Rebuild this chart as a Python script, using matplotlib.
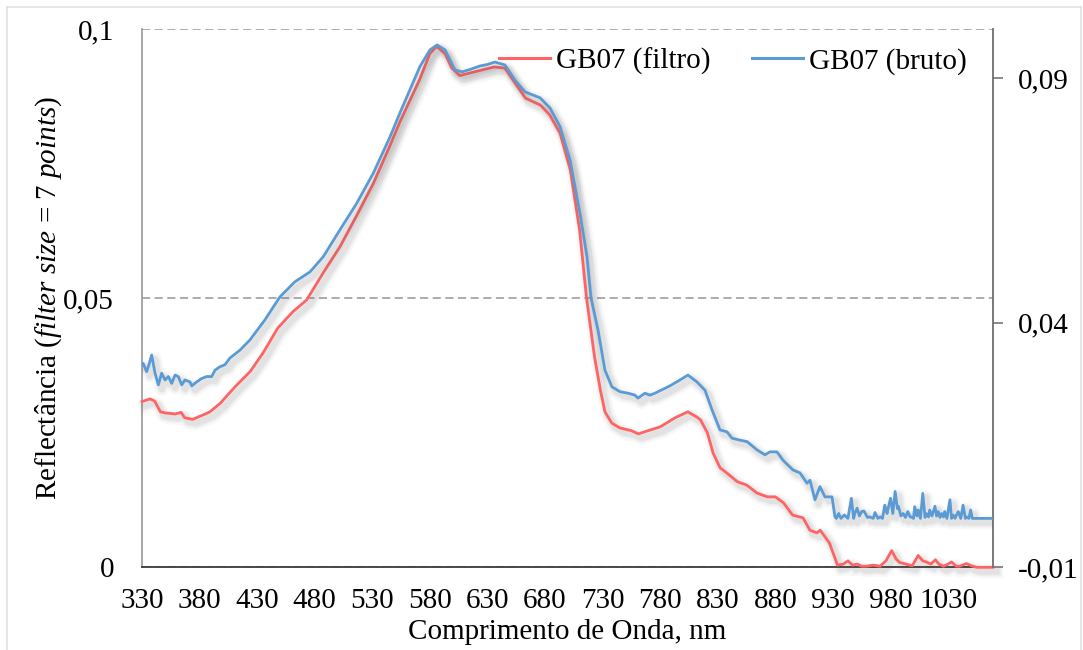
import matplotlib
matplotlib.use('Agg')
import matplotlib.pyplot as plt
from matplotlib import patheffects as pe
from matplotlib.lines import Line2D
from matplotlib.patches import Rectangle

plt.rcParams['font.family'] = ['Liberation Serif', 'DejaVu Serif']
plt.rcParams['mathtext.fontset'] = 'custom'
plt.rcParams['mathtext.rm'] = 'Liberation Serif'
plt.rcParams['mathtext.it'] = 'Liberation Serif:italic'

# filtered spectrum (left axis)
wl_filtro = [330, 337, 341, 346, 350, 359, 364, 367, 374, 385,
             389, 398, 411, 424, 435, 448, 461, 473, 487, 502,
             516, 531, 545, 554, 571, 580, 586, 593, 599, 606, 619,
             636, 645, 654, 663, 676, 684, 693, 702, 710, 716,
             723, 728, 732, 738, 745, 755, 761, 771, 780, 793,
             804, 812, 815, 821, 826, 832, 838, 847, 855, 864,
             873, 880, 887, 895, 904, 910, 916, 919, 925, 927,
             934, 939, 943, 947, 951, 955, 959, 965, 971, 976,
             981, 985, 988, 995, 999, 1004, 1008, 1011, 1015, 1019,
             1022, 1026, 1030, 1033, 1037, 1040, 1046, 1050, 1055, 1069]
refl_filtro = [0.0308, 0.0313, 0.0309, 0.0289, 0.0287, 0.0285, 0.0288, 0.0278, 0.0275, 0.0285,
               0.0289, 0.0305, 0.0336, 0.0364, 0.0398, 0.0445, 0.0475, 0.0497, 0.0546, 0.0596,
               0.0652, 0.0714, 0.0782, 0.0828, 0.0906, 0.0955, 0.0968, 0.0955, 0.0928, 0.0914, 0.0921,
               0.0930, 0.0928, 0.0900, 0.0872, 0.0859, 0.0841, 0.0807, 0.0738, 0.0627, 0.0501,
               0.0391, 0.0330, 0.0289, 0.0268, 0.0259, 0.0254, 0.0248, 0.0255, 0.0261, 0.0278,
               0.0289, 0.0279, 0.0274, 0.0250, 0.0212, 0.0185, 0.0175, 0.0159, 0.0153, 0.0138,
               0.0131, 0.0131, 0.0120, 0.0097, 0.0092, 0.0069, 0.0064, 0.0069, 0.0051, 0.0045,
               0.0004, 0.0006, 0.0012, 0.0004, 0.0006, 0.0002, 0.0002, 0.0004, 0.0002, 0.0012,
               0.0031, 0.0015, 0.0009, 0.0005, 0.0003, 0.0022, 0.0012, 0.0010, 0.0006, 0.0014,
               0.0006, 0.0002, 0.0006, 0.0010, 0.0002, 0.0002, 0.0007, 0.0003, 0.0000, 0.0000]

# raw spectrum (right axis)
wl_bruto = [330, 331, 334, 335.5, 338.4, 341.3, 344.2, 347.1, 350, 352.9,
            355.8, 358.7, 361.5, 364.5, 367.3, 371.7, 373.2, 377.5, 381.8, 386.2,
            390.5, 393.4, 397.7, 402, 406.4, 415.1, 423.8, 436.8, 449.8, 462.9,
            475.9, 487.4, 501.9, 516.4, 530.9, 545.4, 554, 571.4, 580.1, 586.2, 593.1, 601.8,
            607.9, 615, 623.5, 630, 636.5, 645.2, 653.9, 662.6, 675.6, 684.3,
            693, 701.7, 710.3, 716.4, 719.9, 726, 732, 738.1, 745.1, 752,
            758, 760.7, 766.8, 771, 775.5, 788.5, 797.2, 804.1, 811.9, 818.9,
            825, 831.9, 838, 842.3, 849.3, 855.4, 864.1, 871, 875.3, 881.4,
            886.6, 895.3, 901.4, 907.5, 910.1, 914.4, 918.7, 923.1, 929.2, 931.8,
            933, 935, 937, 940, 943, 946, 948, 949, 951, 953,
            955, 957, 960, 962, 965, 966.5, 969, 971, 973, 975,
            977, 978, 980, 982, 984, 986, 987, 989, 991, 993,
            995, 997, 998, 1000, 1001, 1003, 1004, 1006, 1008, 1010,
            1011, 1013, 1014, 1016, 1018.6, 1020, 1021.5, 1023, 1024.4, 1026,
            1027, 1029, 1031.6, 1033, 1034.5, 1036, 1038.8, 1041, 1043, 1045,
            1046, 1048, 1049.6, 1051, 1069]
refl_bruto = [0.0314, 0.0317, 0.0300, 0.0310, 0.0334, 0.0297, 0.0273, 0.0297, 0.0283, 0.0290,
              0.0276, 0.0293, 0.0290, 0.0273, 0.0283, 0.0279, 0.0271, 0.0279, 0.0286, 0.0290,
              0.0290, 0.0303, 0.0310, 0.0314, 0.0328, 0.0344, 0.0365, 0.0406, 0.0453, 0.0484,
              0.0504, 0.0535, 0.0590, 0.0644, 0.0706, 0.0780, 0.0829, 0.0924, 0.0958, 0.0968, 0.0958, 0.0917,
              0.0913, 0.0918, 0.0925, 0.0928, 0.0933, 0.0927, 0.0896, 0.0872, 0.0860, 0.0839,
              0.0801, 0.0733, 0.0624, 0.0535, 0.0451, 0.0385, 0.0303, 0.0269, 0.0259, 0.0256,
              0.0252, 0.0246, 0.0256, 0.0252, 0.0256, 0.0271, 0.0283, 0.0293, 0.0279, 0.0262,
              0.0222, 0.0181, 0.0177, 0.0164, 0.0160, 0.0157, 0.0140, 0.0130, 0.0136, 0.0136,
              0.0119, 0.0099, 0.0093, 0.0072, 0.0078, 0.0038, 0.0065, 0.0044, 0.0044, 0.0003,
              0.0000, 0.0010, 0.0000, 0.0007, 0.0000, 0.0041, 0.0000, 0.0010, 0.0021, 0.0005,
              0.0014, 0.0015, 0.0002, 0.0003, 0.0000, 0.0012, 0.0000, 0.0003, 0.0000, 0.0027,
              0.0010, 0.0021, 0.0041, 0.0010, 0.0055, 0.0020, 0.0024, 0.0005, 0.0010, 0.0002,
              0.0014, 0.0003, 0.0003, 0.0000, 0.0024, 0.0005, 0.0017, 0.0000, 0.0051, 0.0002,
              0.0010, 0.0003, 0.0017, 0.0005, 0.0025, 0.0005, 0.0014, 0.0002, 0.0010, 0.0003,
              0.0014, 0.0000, 0.0038, 0.0000, 0.0007, 0.0000, 0.0014, 0.0000, 0.0027, 0.0000,
              0.0003, 0.0000, 0.0017, 0.0000, 0.0000]

x_ticks = list(range(330, 1031, 50))
left_ticks = [0, 0.05, 0.1]
left_labels = ['0', '0,05', '0,1']
right_ticks = [-0.01, 0.04, 0.09]
right_labels = ['-0,01', '0,04', '0,09']

RED = '#FF6363'
BLUE = '#5B9BD5'
FS = 21


def shadowed():
    # soft drop shadow built from a few widening translucent strokes
    return [pe.SimpleLineShadow(offset=(2.5, -3), shadow_color='0.35', alpha=0.04, linewidth=10),
            pe.SimpleLineShadow(offset=(2.5, -3), shadow_color='0.35', alpha=0.06, linewidth=7),
            pe.SimpleLineShadow(offset=(2.5, -3), shadow_color='0.35', alpha=0.08, linewidth=4.5),
            pe.Normal()]


fig = plt.figure(figsize=(10.83, 6.5), dpi=100)
fig.patches.append(Rectangle((7 / 1083, -0.02), 1074 / 1083, 1 - 7 / 650 + 0.02,
                             transform=fig.transFigure, fill=False,
                             edgecolor='#DCE1E8', linewidth=1.2))

ax = fig.add_axes([142 / 1083, 1 - 567.3 / 650, 851 / 1083, 538 / 650])
ax.plot(wl_filtro, refl_filtro, color=RED, linewidth=2.0,
        path_effects=shadowed(), solid_joinstyle='round', clip_on=False, zorder=3)
ax.set_xlim(330, 1069)
ax.set_ylim(0, 0.1)
ax.set_xticks(x_ticks)
ax.set_yticks(left_ticks, left_labels)
ax.tick_params(axis='both', length=0, labelsize=FS)
ax.tick_params(axis='x', pad=15)
ax.tick_params(axis='y', pad=20)
ax.set_axisbelow(True)
ax.yaxis.grid(True, linestyle=(0, (4.5, 2.5)), color='#A6A6A6', linewidth=1.3)
ax.spines['top'].set_visible(False)
ax.spines['right'].set_visible(False)
ax.spines['left'].set_color('#A0A0A0')
ax.spines['left'].set_linewidth(1.3)
ax.spines['bottom'].set_color('#3A3A3A')
ax.spines['bottom'].set_linewidth(1.3)

ax.set_xlabel('Comprimento de Onda, nm', fontsize=FS)
ax.xaxis.set_label_coords(0.5, -0.0955)
ax.set_ylabel(r'Reflectância ($\mathit{filter\ size}$ = $\mathit{7\ points}$)', fontsize=FS)
ax.yaxis.set_label_coords(-0.092, 0.5)

ax2 = ax.twinx()
ax2.plot(wl_bruto, refl_bruto, color=BLUE, linewidth=2.0,
         path_effects=shadowed(), solid_joinstyle='round', zorder=3)
ax2.set_ylim(-0.01, 0.1)
ax2.set_yticks(right_ticks, right_labels)
ax2.tick_params(axis='y', length=7, width=1.3, color='#808080', direction='out',
                pad=11, labelsize=FS)
for side in ['top', 'left', 'bottom']:
    ax2.spines[side].set_visible(False)
ax2.spines['right'].set_color('#6E6E6E')
ax2.spines['right'].set_linewidth(1.3)

handles = [Line2D([], [], color=RED, linewidth=2.2),
           Line2D([], [], color=BLUE, linewidth=2.2)]
fig.legend(handles, ['GB07 (filtro)', 'GB07 (bruto)'], ncol=2, frameon=False,
           loc='center right', bbox_to_anchor=(967 / 1083, 1 - 61 / 650),
           fontsize=FS, handlelength=1.75, handletextpad=0.2, columnspacing=1.45,
           borderpad=0, borderaxespad=0)

fig.savefig('out.png', dpi=100)
